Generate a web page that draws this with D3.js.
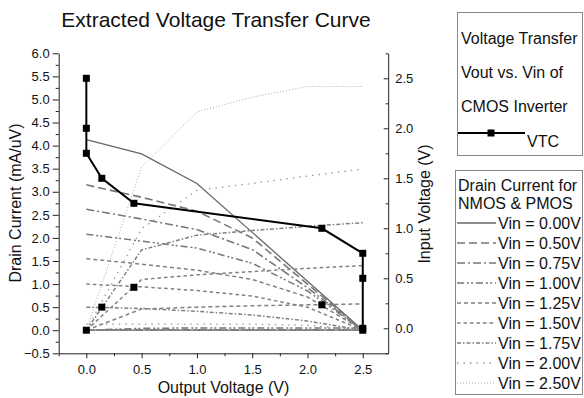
<!DOCTYPE html>
<html>
<head>
<meta charset="utf-8">
<script src="https://cdn.jsdelivr.net/npm/d3@7"></script>
<style>
  body { margin: 0; background: #fff; }
  svg text { font-family: "Liberation Sans", Arial, sans-serif; fill: #111; }
</style>
</head>
<body>
<div class="plot"></div>
<script>
// Output voltage grid for the drain current curves
const vout = [0, 0.5, 1.0, 1.5, 2.0, 2.5];
const vinLabels = ["0.00", "0.50", "0.75", "1.00", "1.25", "1.50", "1.75", "2.00", "2.50"];

// NMOS drain current per Vin (mA/uV), same order as vinLabels
const nmosCurrent = [
    [0, 0, 0, 0, 0, 0],
    [0, 0, 0, 0, 0, 0],
    [0, 0.01, 0.01, 0.01, 0.01, 0.01],
    [0, 0.04, 0.05, 0.05, 0.05, 0.05],
    [0, 0.46, 0.5, 0.53, 0.55, 0.57],
    [0, 1.1, 1.2, 1.27, 1.34, 1.4],
    [0, 1.74, 2.06, 2.16, 2.25, 2.33],
    [0, 2.2, 3.03, 3.18, 3.34, 3.49],
    [0, 3.54, 4.73, 5.05, 5.28, 5.28]
];
// PMOS drain current per Vin
const pmosCurrent = [
    [4.13, 3.82, 3.18, 2.12, 1.06, 0],
    [3.15, 2.88, 2.58, 2.0, 1.0, 0],
    [2.62, 2.41, 2.18, 1.75, 0.92, 0],
    [2.08, 1.93, 1.78, 1.45, 0.85, 0],
    [1.55, 1.43, 1.3, 1.1, 0.72, 0],
    [1.0, 0.94, 0.86, 0.74, 0.5, 0],
    [0.5, 0.47, 0.41, 0.33, 0.2, 0],
    [0.13, 0.13, 0.13, 0.13, 0.11, 0],
    [0, 0, 0, 0, 0, 0]
];

// Voltage transfer curve (right axis)
const vtcVout = [0, 0, 0, 0.14, 0.43, 2.13, 2.5, 2.5, 2.5];
const vtcVin = [2.5, 2.0, 1.75, 1.5, 1.25, 1.0, 0.75, 0.5, 0.0];

// operating point currents (left axis)
const opVout = [0, 0.14, 0.43, 2.13, 2.5];
const opCurrent = [0, 0.5, 0.93, 0.55, 0];

const legendTitle = ["Voltage Transfer", "Vout vs. Vin of", "CMOS Inverter"];

// line styles, one per Vin
const dashes = ["none", "8,4", "8,3,2,3", "7,3,2,2,2,3", "4,3", "3.5,3", "4,2,1.5,2", "1.5,5", "1,2"];
const colors = ["#666", "#777", "#777", "#777", "#808080", "#808080", "#808080", "#999", "#aaa"];
const widths = [1.3, 1.6, 1.6, 1.5, 1.5, 1.5, 1.5, 1.3, 1];

const W = 584, H = 398;
const svg = d3.select(".plot").append("svg")
    .attr("width", W)
    .attr("height", H);

const x = d3.scaleLinear().domain([-0.25, 2.73]).range([58.7, 388.2]);
const yL = d3.scaleLinear().domain([-0.5, 6.0]).range([353.3, 53.3]);
const yR = d3.scaleLinear().domain([-0.25, 2.75]).range([353.3, 53.3]);

// title
svg.append("text")
    .attr("x", 216).attr("y", 27)
    .attr("text-anchor", "middle")
    .style("font-size", "21px")
    .text("Extracted Voltage Transfer Curve");

// axes
const fmt = d3.format(".1f");
const range = (a, b, s) => d3.range(a, b + 1e-9, s);

function styleAxis(g) {
    g.selectAll("path, line").attr("stroke", "#222");
    g.selectAll("text").style("font-size", "13px").attr("fill", "#222");
}

svg.append("g").attr("transform", "translate(0,353.3)")
    .call(d3.axisBottom(x).tickValues(range(0, 2.5, 0.5)).tickFormat(fmt)
        .tickSize(5).tickSizeOuter(0).tickPadding(6))
    .call(styleAxis);
svg.append("g").attr("transform", "translate(0,353.3)")
    .call(d3.axisBottom(x).tickValues(range(-0.25, 2.7, 0.5)).tickFormat("")
        .tickSize(3).tickSizeOuter(0))
    .call(styleAxis).select(".domain").remove();

svg.append("g").attr("transform", "translate(58.7,0)")
    .call(d3.axisLeft(yL).tickValues(range(-0.5, 6.0, 0.5)).tickFormat(fmt)
        .tickSize(6).tickSizeOuter(0).tickPadding(3))
    .call(styleAxis);
svg.append("g").attr("transform", "translate(58.7,0)")
    .call(d3.axisLeft(yL).tickValues(range(-0.25, 5.75, 0.5)).tickFormat("")
        .tickSize(3).tickSizeOuter(0))
    .call(styleAxis).select(".domain").remove();

const right = svg.append("g").attr("transform", "translate(388.2,0)")
    .call(d3.axisRight(yR).tickValues(range(0, 2.5, 0.5)).tickFormat(fmt)
        .tickSize(-4.5).tickSizeOuter(0).tickPadding(7))
    .call(styleAxis);
svg.append("g").attr("transform", "translate(388.2,0)")
    .call(d3.axisRight(yR).tickValues(range(-0.25, 2.75, 0.5)).tickFormat("")
        .tickSize(-2.5).tickSizeOuter(0))
    .call(styleAxis).select(".domain").remove();

// axis titles
svg.append("text")
    .attr("transform", "translate(21,203) rotate(-90)")
    .attr("text-anchor", "middle")
    .style("font-size", "16px")
    .text("Drain Current (mA/uV)");
svg.append("text")
    .attr("transform", "translate(430,204) rotate(-90)")
    .attr("text-anchor", "middle")
    .style("font-size", "16px")
    .text("Input Voltage (V)");
svg.append("text")
    .attr("x", 223.5).attr("y", 393)
    .attr("text-anchor", "middle")
    .style("font-size", "16px")
    .text("Output Voltage (V)");

// drain current curves
const line = d3.line().x(d => x(d[0])).y(d => yL(d[1]));
const curves = svg.append("g").attr("fill", "none");
vinLabels.forEach((v, i) => {
    [nmosCurrent[i], pmosCurrent[i]].forEach(vals => {
        curves.append("path")
            .attr("d", line(vout.map((vo, j) => [vo, vals[j]])))
            .attr("stroke", colors[i])
            .attr("stroke-width", widths[i])
            .attr("stroke-dasharray", dashes[i]);
    });
});

// VTC on right axis
const vtc = vtcVout.map((vo, i) => [vo, vtcVin[i]]);
svg.append("path")
    .attr("d", d3.line().x(d => x(d[0])).y(d => yR(d[1]))(vtc))
    .attr("fill", "none")
    .attr("stroke", "#000")
    .attr("stroke-width", 2);
svg.append("g").selectAll("rect")
    .data(vtc).enter().append("rect")
    .attr("x", d => x(d[0]) - 3.5)
    .attr("y", d => yR(d[1]) - 3.5)
    .attr("width", 7).attr("height", 7)
    .attr("fill", "#000");

// operating points
svg.append("g").selectAll("rect")
    .data(opVout.map((vo, i) => [vo, opCurrent[i]])).enter().append("rect")
    .attr("x", d => x(d[0]) - 3.5)
    .attr("y", d => yL(d[1]) - 3.5)
    .attr("width", 7).attr("height", 7)
    .attr("fill", "#000");

// legend box 1
svg.append("rect")
    .attr("x", 457.5).attr("y", 12.5).attr("width", 125).attr("height", 143)
    .attr("fill", "#fff").attr("stroke", "#888");
legendTitle.forEach((t, i) => {
    svg.append("text")
        .attr("x", 461).attr("y", 44 + i * 34)
        .style("font-size", "16px")
        .text(t);
});
svg.append("line")
    .attr("x1", 458).attr("x2", 525).attr("y1", 133).attr("y2", 133)
    .attr("stroke", "#000").attr("stroke-width", 2);
svg.append("rect")
    .attr("x", 487.5).attr("y", 129.5).attr("width", 7).attr("height", 7)
    .attr("fill", "#000");
svg.append("text")
    .attr("x", 527).attr("y", 146.5)
    .style("font-size", "16px")
    .text("VTC");

// legend box 2
svg.append("rect")
    .attr("x", 455.5).attr("y", 170.5).attr("width", 127).attr("height", 224)
    .attr("fill", "#fff").attr("stroke", "#888");
svg.append("text").attr("x", 458).attr("y", 191)
    .style("font-size", "16px").text("Drain Current for");
svg.append("text").attr("x", 458).attr("y", 209)
    .style("font-size", "16px").text("NMOS & PMOS");

const rows = svg.append("g").selectAll("g")
    .data(vinLabels).enter().append("g")
    .attr("transform", (d, i) => "translate(0," + (223 + i * 20) + ")");
rows.append("line")
    .attr("x1", 457).attr("x2", 496)
    .attr("stroke", (d, i) => colors[i])
    .attr("stroke-width", (d, i) => widths[i])
    .attr("stroke-dasharray", (d, i) => dashes[i]);
rows.append("text")
    .attr("x", 498).attr("y", 6)
    .style("font-size", "16px")
    .text(d => "Vin = " + d + "V");
</script>
</body>
</html>
